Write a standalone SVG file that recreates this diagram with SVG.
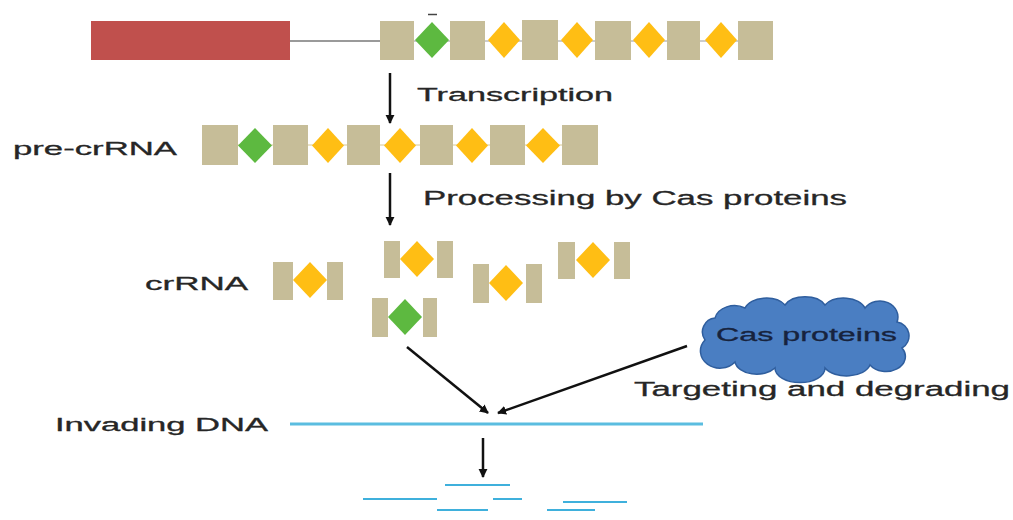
<svg xmlns="http://www.w3.org/2000/svg" width="1013" height="520" viewBox="0 0 1013 520">
<style>
.tan{fill:#C6BD98;}
.yel{fill:#FFBE14;}
.grn{fill:#5DB940;}
.lbl{font-family:"Liberation Sans",Arial,sans-serif;fill:#262626;stroke:#262626;stroke-width:0.3;}
.ln{stroke:#111;stroke-width:2.5;fill:none;}
.dna{stroke:#5BBDE0;stroke-width:3;fill:none;}
</style>
<defs>
<marker id="ah" viewBox="0 0 10 10" refX="9" refY="5" markerWidth="9" markerHeight="11" markerUnits="userSpaceOnUse" orient="auto">
<path d="M0,0 L10,5 L0,10 Z" fill="#111"/>
</marker>
</defs>
<rect width="1013" height="520" fill="#fff"/>

<g id="gene">
<rect x="91" y="21" width="199" height="39" fill="#C0504D"/>
<line x1="290" y1="41" x2="380" y2="41" stroke="#9a9a9a" stroke-width="2"/>
<line x1="380" y1="41" x2="773" y2="41" stroke="#9a9a9a" stroke-width="1"/>
<line x1="428" y1="14.5" x2="437" y2="14.5" stroke="#444" stroke-width="1.5"/>
<rect class="tan" x="380" y="21" width="34" height="39"/>
<polygon class="grn" points="432,22 449,40 432,58 415,40"/>
<rect class="tan" x="450" y="21" width="35" height="39"/>
<polygon class="yel" points="504,22 520,40 504,58 488,40"/>
<rect class="tan" x="522" y="20" width="36" height="40"/>
<polygon class="yel" points="577,22 593,40 577,58 561,40"/>
<rect class="tan" x="595" y="21" width="36" height="39"/>
<polygon class="yel" points="649,22 665,40 649,58 633,40"/>
<rect class="tan" x="667" y="21" width="33" height="39"/>
<polygon class="yel" points="721,22 737,40 721,58 705,40"/>
<rect class="tan" x="738" y="21" width="35" height="39"/>
</g>

<g id="pre-crRNA">
<text class="lbl" x="13" y="155" font-size="18" textLength="164" lengthAdjust="spacingAndGlyphs">pre-crRNA</text>
<line x1="202" y1="145" x2="598" y2="145" stroke="#d8c890" stroke-width="1"/>
<rect class="tan" x="202" y="125" width="36" height="40"/>
<polygon class="grn" points="255,128 272,145.5 255,163 238,145.5"/>
<rect class="tan" x="273" y="125" width="35" height="40"/>
<polygon class="yel" points="328,128 344,145.5 328,163 312,145.5"/>
<rect class="tan" x="347" y="125" width="33" height="40"/>
<polygon class="yel" points="400,128 416,145.5 400,163 384,145.5"/>
<rect class="tan" x="420" y="125" width="33" height="40"/>
<polygon class="yel" points="472,128 488,145.5 472,163 456,145.5"/>
<rect class="tan" x="490" y="125" width="35" height="40"/>
<polygon class="yel" points="543,128 560,145.5 543,163 526,145.5"/>
<rect class="tan" x="562" y="125" width="36" height="40"/>
</g>

<g id="crRNA">
<text class="lbl" x="145" y="290" font-size="18" textLength="103" lengthAdjust="spacingAndGlyphs">crRNA</text>
<g id="cr1">
<rect class="tan" x="273" y="262" width="20" height="38"/>
<polygon class="yel" points="310,262 327,280 310,298 293,280"/>
<rect class="tan" x="327" y="262" width="16" height="38"/>
</g>
<g id="cr2">
<rect class="tan" x="384" y="241" width="16" height="37"/>
<polygon class="yel" points="417,241 434,259 417,277 400,259"/>
<rect class="tan" x="437" y="241" width="16" height="37"/>
</g>
<g id="cr3">
<rect class="tan" x="473" y="264" width="16" height="39"/>
<polygon class="yel" points="506,265 523,283 506,301 489,283"/>
<rect class="tan" x="526" y="264" width="16" height="39"/>
</g>
<g id="cr4">
<rect class="tan" x="558" y="242" width="17" height="37"/>
<polygon class="yel" points="593,242 610,260 593,278 576,260"/>
<rect class="tan" x="614" y="242" width="16" height="37"/>
</g>
<g id="cr5">
<rect class="tan" x="372" y="298" width="16" height="39"/>
<polygon class="grn" points="405,299 422,317 405,335 388,317"/>
<rect class="tan" x="423" y="298" width="14" height="39"/>
</g>
</g>

<g id="cas">
<path d="M705,340 A14,14 0 0 1 715,318 A20,16 0 0 1 745,308 A22,14 0 0 1 785,305 A22,14 0 0 1 825,305 A22,14 0 0 1 865,308 A18,16 0 0 1 897,322 A14,14 0 0 1 902,348 A18,14 0 0 1 870,365 A24,14 0 0 1 825,368 A24,14 0 0 1 775,368 A22,14 0 0 1 735,362 A16,14 0 0 1 705,340 Z" fill="#4A7EC2" stroke="#2F5E9E" stroke-width="1.5"/>
<text x="716" y="341" font-family="'Liberation Sans',Arial,sans-serif" font-size="18" fill="#17233D" stroke="#17233D" stroke-width="0.3" textLength="181" lengthAdjust="spacingAndGlyphs">Cas proteins</text>
</g>

<g id="dna">
<text class="lbl" x="55" y="431" font-size="18" textLength="213" lengthAdjust="spacingAndGlyphs">Invading DNA</text>
<line class="dna" x1="290" y1="424" x2="703" y2="424"/>
</g>

<g id="fragments" stroke="#3FB0DC" stroke-width="2">
<line x1="445" y1="485" x2="510" y2="485"/>
<line x1="363" y1="499" x2="437" y2="499"/>
<line x1="493" y1="499" x2="522" y2="499"/>
<line x1="563" y1="502" x2="627" y2="502"/>
<line x1="437" y1="510" x2="488" y2="510"/>
<line x1="547" y1="510" x2="595" y2="510"/>
</g>

<g id="labels">
<text class="lbl" x="417" y="101" font-size="18" textLength="196" lengthAdjust="spacingAndGlyphs">Transcription</text>
<text class="lbl" x="423" y="205" font-size="20" textLength="424" lengthAdjust="spacingAndGlyphs">Processing by Cas proteins</text>
<text class="lbl" x="634" y="396" font-size="20" textLength="376" lengthAdjust="spacingAndGlyphs">Targeting and degrading</text>
</g>

<g id="connectors">
<line class="ln" x1="390" y1="73" x2="390" y2="123" marker-end="url(#ah)"/>
<line class="ln" x1="390" y1="173" x2="390" y2="225" marker-end="url(#ah)"/>
<line class="ln" x1="407" y1="347" x2="488" y2="413" stroke-width="2" marker-end="url(#ah)"/>
<line class="ln" x1="687" y1="346" x2="498" y2="413" stroke-width="2" marker-end="url(#ah)"/>
<line class="ln" x1="483" y1="438" x2="483" y2="477" stroke-width="3" marker-end="url(#ah)"/>
</g>
</svg>
